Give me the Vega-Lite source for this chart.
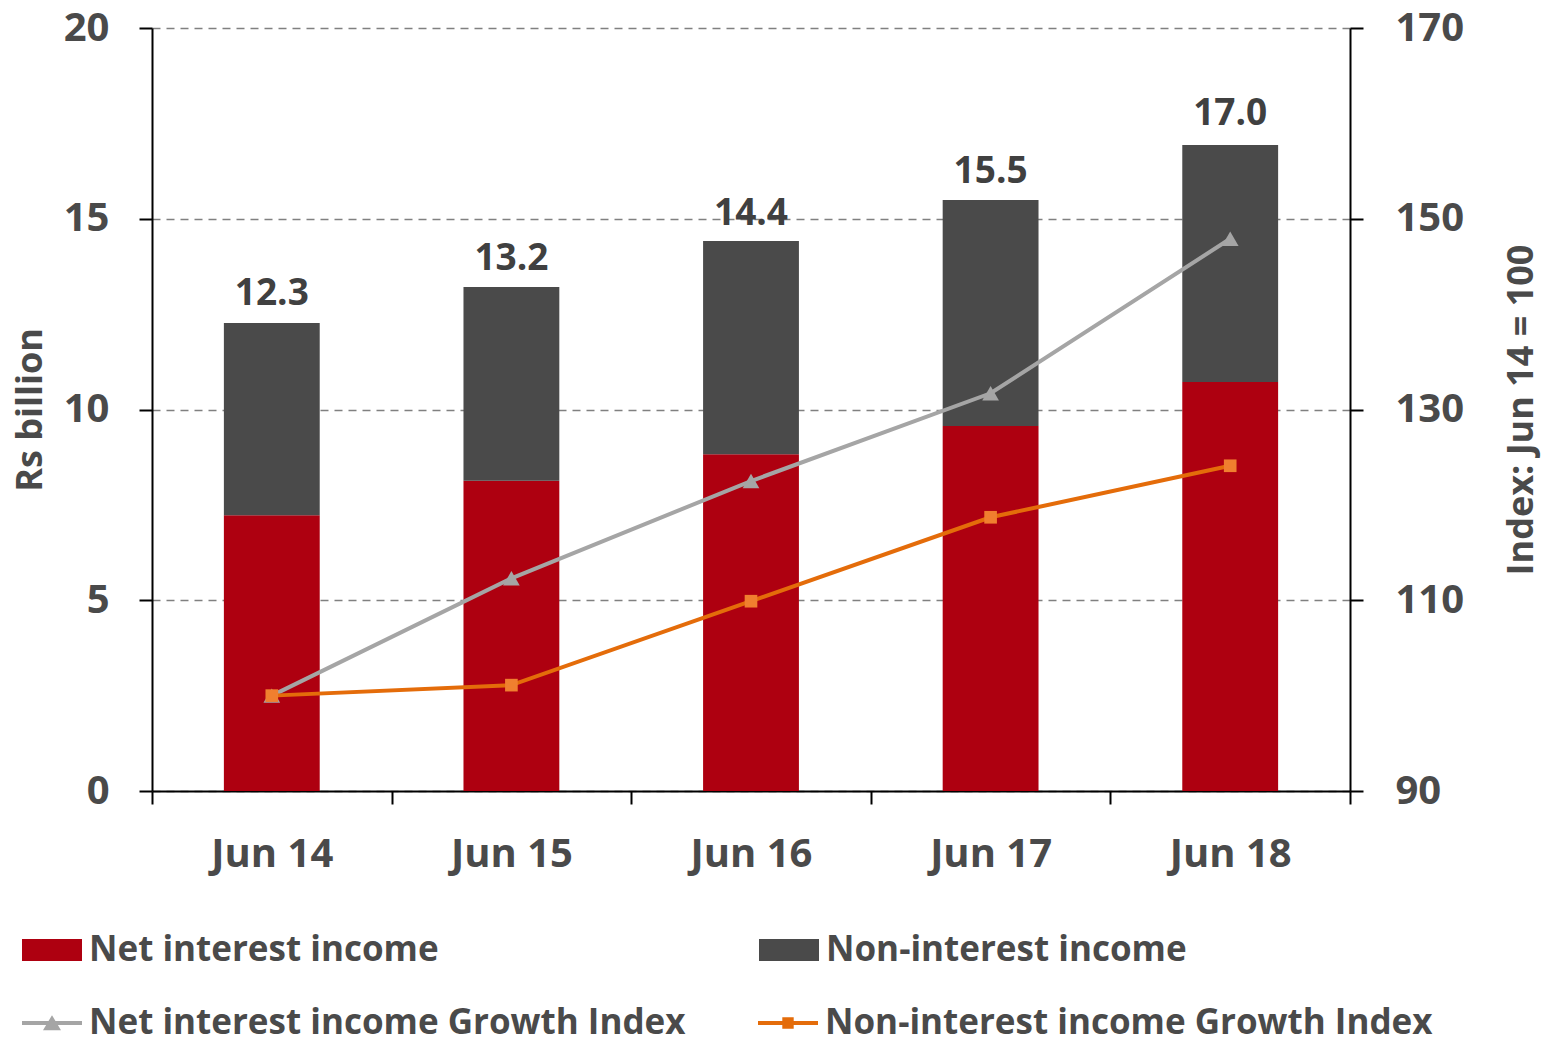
{
  "$schema": "https://vega.github.io/schema/vega-lite/v6.json",
  "autosize": "none",
  "width": 1198,
  "height": 763,
  "padding": {"left": 152, "top": 28, "right": 195, "bottom": 253},
  "background": "white",
  "config": {
    "font": "Open Sans",
    "view": {"stroke": null},
    "axis": {
      "labelFont": "Open Sans",
      "labelFontWeight": "bold",
      "labelFontSize": 40,
      "labelColor": "#4A4A4A",
      "titleFont": "Open Sans",
      "titleFontWeight": "bold",
      "titleFontSize": 36,
      "titleColor": "#4A4A4A",
      "domainColor": "#000000",
      "domainWidth": 2,
      "tickColor": "#000000",
      "tickWidth": 2,
      "tickSize": 13,
      "gridColor": "#808080",
      "gridDash": [8, 6],
      "gridWidth": 1.5
    },
    "legend": {"padding": 0}
  },
  "datasets": {
    "bars": [
      {"period": "Jun 14", "series": "Net interest income", "value": 7.23},
      {"period": "Jun 14", "series": "Non-interest income", "value": 5.04},
      {"period": "Jun 15", "series": "Net interest income", "value": 8.13},
      {"period": "Jun 15", "series": "Non-interest income", "value": 5.08},
      {"period": "Jun 16", "series": "Net interest income", "value": 8.83},
      {"period": "Jun 16", "series": "Non-interest income", "value": 5.59},
      {"period": "Jun 17", "series": "Net interest income", "value": 9.57},
      {"period": "Jun 17", "series": "Non-interest income", "value": 5.92},
      {"period": "Jun 18", "series": "Net interest income", "value": 10.72},
      {"period": "Jun 18", "series": "Non-interest income", "value": 6.21}
    ],
    "totals": [
      {"period": "Jun 14", "total": 12.3},
      {"period": "Jun 15", "total": 13.2},
      {"period": "Jun 16", "total": 14.4},
      {"period": "Jun 17", "total": 15.5},
      {"period": "Jun 18", "total": 17.0}
    ],
    "lines": [
      {"period": "Jun 14", "series": "Net interest income Growth Index", "index": 100},
      {"period": "Jun 15", "series": "Net interest income Growth Index", "index": 112.3},
      {"period": "Jun 16", "series": "Net interest income Growth Index", "index": 122.5},
      {"period": "Jun 17", "series": "Net interest income Growth Index", "index": 131.7},
      {"period": "Jun 18", "series": "Net interest income Growth Index", "index": 147.9},
      {"period": "Jun 14", "series": "Non-interest income Growth Index", "index": 100},
      {"period": "Jun 15", "series": "Non-interest income Growth Index", "index": 101.1},
      {"period": "Jun 16", "series": "Non-interest income Growth Index", "index": 109.9},
      {"period": "Jun 17", "series": "Non-interest income Growth Index", "index": 118.7},
      {"period": "Jun 18", "series": "Non-interest income Growth Index", "index": 124.1}
    ]
  },
  "layer": [
    {
      "layer": [
        {
          "data": {"name": "bars"},
          "mark": {"type": "bar", "width": {"band": 0.4}},
          "encoding": {
            "x": {
              "field": "period", "type": "nominal", "sort": null,
              "scale": {"paddingInner": 0, "paddingOuter": 0},
              "axis": {"title": null, "labelAngle": 0, "tickBand": "extent", "labelPadding": 30}
            },
            "y": {
              "field": "value", "type": "quantitative", "stack": "zero",
              "scale": {"domain": [0, 20]},
              "axis": {"title": "Rs billion", "values": [0, 5, 10, 15, 20], "labelPadding": 30, "titlePadding": 14, "grid": true}
            },
            "order": {"field": "series", "sort": "ascending"},
            "color": {
              "field": "series", "type": "nominal",
              "scale": {"domain": ["Net interest income", "Non-interest income"], "range": ["#AE0010", "#4A4A4A"]},
              "legend": {
                "orient": "none", "legendX": -130, "legendY": 892,
                "direction": "horizontal", "columns": 2, "title": null,
                "symbolType": "M-1,-0.37H1V0.37H-1Z", "symbolSize": 3600, "symbolStrokeWidth": 0,
                "labelFont": "Open Sans", "labelFontWeight": "bold", "labelFontSize": 35,
                "labelColor": "#4A4A4A", "labelOffset": 7, "columnPadding": 320, "labelLimit": 0
              }
            }
          }
        },
        {
          "data": {"name": "totals"},
          "mark": {"type": "text", "baseline": "bottom", "dy": -9, "fontSize": 37, "fontWeight": "bold", "color": "#404040", "font": "Open Sans"},
          "encoding": {
            "x": {"field": "period", "type": "nominal", "sort": null},
            "y": {"field": "total", "type": "quantitative", "axis": {"title": "Rs billion"}},
            "text": {"field": "total", "type": "quantitative", "format": ".1f"}
          }
        }
      ]
    },
    {
      "data": {"name": "lines"},
      "layer": [
        {
          "mark": {"type": "line", "strokeWidth": 4},
          "encoding": {
            "x": {"field": "period", "type": "nominal", "sort": null},
            "y": {
              "field": "index", "type": "quantitative",
              "scale": {"domain": [90, 170]},
              "axis": {"orient": "right", "title": "Index: Jun 14 = 100", "titleAngle": 270, "values": [90, 110, 130, 150, 170], "labelPadding": 32, "titlePadding": 77, "grid": false}
            },
            "color": {
              "field": "series", "type": "nominal",
              "scale": {"domain": ["Net interest income Growth Index", "Non-interest income Growth Index"], "range": ["#A5A5A5", "#E46C0A"]},
              "legend": {
                "orient": "none", "legendX": -130, "legendY": 965,
                "direction": "horizontal", "columns": 2, "title": null,
                "symbolType": "M-1,-0.067H1V0.067H-1Z", "symbolSize": 3600,
                "labelFont": "Open Sans", "labelFontWeight": "bold", "labelFontSize": 35,
                "labelColor": "#4A4A4A", "labelOffset": 7, "columnPadding": 72, "labelLimit": 0,
                "encode": {
                  "symbols": {
                    "update": {
                      "shape": {"signal": "datum.value === 'Net interest income Growth Index' ? 'M-1,-0.067H1V0.067H-1Z M-0.3,0.24L0,-0.26L0.3,0.24Z' : 'M-1,-0.067H1V0.067H-1Z M-0.19,-0.19H0.19V0.19H-0.19Z'"},
                      "fill": {"signal": "datum.value === 'Net interest income Growth Index' ? '#A5A5A5' : '#E46C0A'"},
                      "strokeWidth": {"value": 0}
                    }
                  }
                }
              }
            }
          }
        },
        {
          "mark": {"type": "point", "filled": true, "opacity": 1},
          "encoding": {
            "x": {"field": "period", "type": "nominal", "sort": null},
            "y": {"field": "index", "type": "quantitative"},
            "fill": {
              "field": "series", "type": "nominal",
              "scale": {"domain": ["Net interest income Growth Index", "Non-interest income Growth Index"], "range": ["#A5A5A5", "#F07F2F"]},
              "legend": null
            },
            "shape": {
              "field": "series", "type": "nominal",
              "scale": {"domain": ["Net interest income Growth Index", "Non-interest income Growth Index"], "range": ["triangle-up", "square"]},
              "legend": null
            },
            "size": {
              "field": "series", "type": "nominal",
              "scale": {"domain": ["Net interest income Growth Index", "Non-interest income Growth Index"], "range": [280, 160]},
              "legend": null
            }
          }
        }
      ]
    }
  ],
  "resolve": {"scale": {"y": "independent", "color": "independent"}}
}
